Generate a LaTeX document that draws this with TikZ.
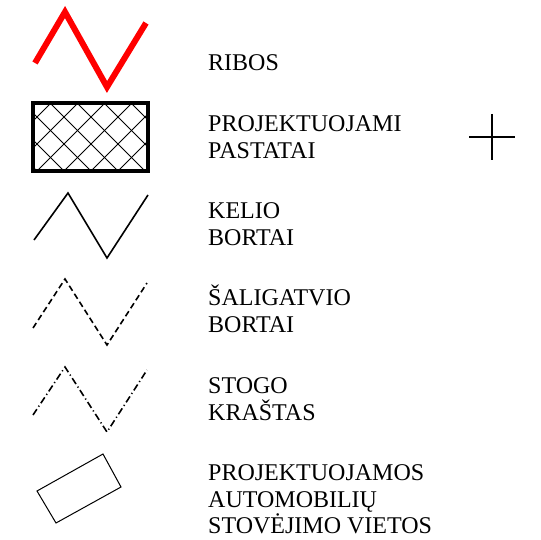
\documentclass[tikz,border=0pt]{standalone}
\usepackage{fontspec}
\setmainfont{Liberation Serif}
\begin{document}
\begin{tikzpicture}[x=1pt,y=-1pt,
  lbl/.style={anchor=base west,inner sep=0pt,font=\fontsize{24}{26}\selectfont},
  zig/.style={line width=1.6pt,black},
  hatch/.style={line width=0.8pt,black}]
\useasboundingbox (0,0) rectangle (540,540);
\fill[white] (0,0) rectangle (540,540);
% RIBOS
\draw[red,line width=6pt,miter limit=10] (35,63) -- (65,12) -- (107,87) -- (146,23);
% hatched building
\begin{scope}
\clip (33,103) rectangle (148,171);
\foreach \k in {-2,...,6}{
  \pgfmathsetmacro{\s}{181+27*\k}
  \draw[hatch] (\s-180,180) -- (\s-95,95);
}
\foreach \k in {-4,...,4}{
  \pgfmathsetmacro{\t}{53+27*\k}
  \draw[hatch] (95-\t,95) -- (180-\t,180);
}
\end{scope}
\draw[line width=4pt] (33,103) rectangle (148,171);
% kelio bortai
\draw[zig] (34,240) -- (68,193) -- (107,258) -- (148,195);
% saligatvio bortai
\draw[zig,dash pattern=on 6pt off 3.5pt] (33,328) -- (65,279) -- (107,345) -- (147,283);
% stogo krastas
\draw[zig,dash pattern=on 7pt off 3pt on 1.2pt off 3pt] (33,415) -- (65,367) -- (107,432) -- (147,370);
% parking
\draw[line width=1pt] (37,491) -- (103,454) -- (121,487) -- (56,523) -- cycle;
% cross
\coordinate (cl) at (469,137); \coordinate (cr) at (515,137);
\coordinate (ct) at (492,114); \coordinate (cb) at (492,160);
\draw[line width=1.2pt] (cl) -- (cr) (ct) -- (cb);
% labels
\node[lbl] (t1) at (208,71) {RIBOS};
\node[lbl] (t2) at (208,132) {PROJEKTUOJAMI};
\node[lbl] (t3) at (208,158) {PASTATAI};
\node[lbl] (t4) at (208,218) {KELIO};
\node[lbl] (t5) at (208,245) {BORTAI};
\node[lbl] (t6) at (208,305) {ŠALIGATVIO};
\node[lbl] (t7) at (208,332) {BORTAI};
\node[lbl] (t8) at (208,393) {STOGO};
\node[lbl] (t9) at (208,420) {KRAŠTAS};
\node[lbl] (t10) at (208,480) {PROJEKTUOJAMOS};
\node[lbl] (t11) at (208,507) {AUTOMOBILIŲ};
\node[lbl] (t12) at (208,533) {STOVĖJIMO VIETOS};
\end{tikzpicture}
\end{document}
